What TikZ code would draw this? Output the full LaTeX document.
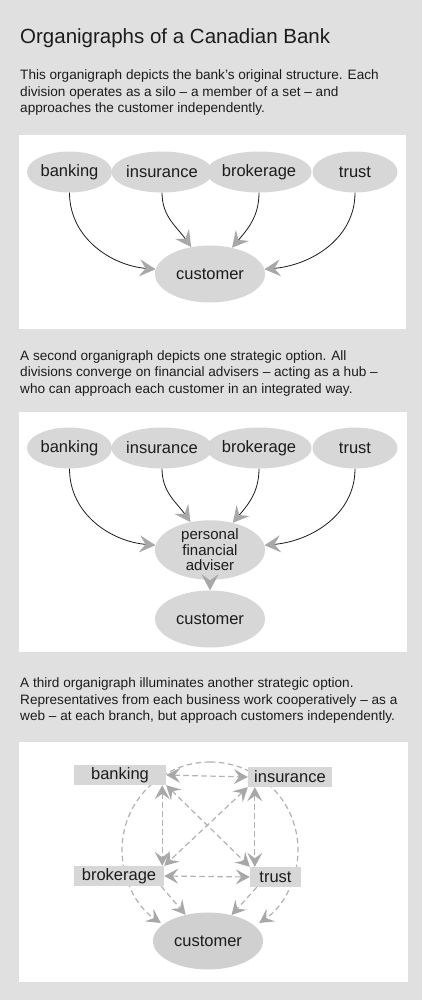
\documentclass[tikz,border=0pt]{standalone}
\usepackage{fontspec}
\setmainfont{Liberation Sans}
\usetikzlibrary{arrows.meta,positioning,shapes.geometric}
\definecolor{pagegray}{RGB}{224,224,224}
\definecolor{nodegray}{RGB}{215,215,215}
\definecolor{custgray}{RGB}{208,208,208}
\definecolor{headgray}{RGB}{168,168,168}
\definecolor{dashgray}{RGB}{178,178,178}
\definecolor{inkblack}{RGB}{28,28,28}

\tikzset{
  feedtip/.tip={Stealth[length=16pt,width=17pt,inset=6pt,color=headgray]},
  webtip/.tip={Stealth[length=14pt,width=15pt,inset=5.5pt,color=headgray]},
  division/.style={ellipse, fill=nodegray, minimum width=85pt, minimum height=41pt, inner sep=0pt, text=inkblack, font=\fontsize{16.5}{17}\selectfont},
  client/.style={ellipse, fill=nodegray, minimum width=110pt, minimum height=57pt, inner sep=0pt, text=inkblack, align=center, font=\fontsize{16.5}{17}\selectfont},
  unit/.style={rectangle, fill=nodegray, minimum height=20pt, inner sep=0pt, text=inkblack, font=\fontsize{16.5}{17}\selectfont},
  feed/.style={-feedtip, line width=0.8pt, draw=inkblack},
  web/.style={dash pattern=on 5.5pt off 3.5pt, line width=1.2pt, draw=dashgray},
  caption/.style={anchor=north west, inner sep=0pt, align=left, text=inkblack, font=\fontsize{13.6}{16.5}\selectfont}
}

\begin{document}
\begin{tikzpicture}[x=1pt,y=1pt]
  % page and panels
  \fill[pagegray] (0,0) rectangle (422,-1000);
  \useasboundingbox (0,0) rectangle (422,-1000);
  \fill[white] (19,-135) rectangle (406,-329);
  \fill[white] (19,-412) rectangle (407,-652);
  \fill[white] (19,-742) rectangle (408,-982);

  % heading and captions
  \node[anchor=base west, inner sep=0pt, text=inkblack, font=\fontsize{20.5}{21}\selectfont] (title) at (20,-43.5) {Organigraphs of a Canadian Bank};
  \node[caption] (intro1) at (20,-69.5) {This organigraph depicts the bank's original structure. Each\\division operates as a silo – a member of a set – and\\approaches the customer independently.};
  \node[caption] (intro2) at (20,-350) {A second organigraph depicts one strategic option. All\\divisions converge on financial advisers – acting as a hub –\\who can approach each customer in an integrated way.};
  \node[caption] (intro3) at (20,-677.5) {A third organigraph illuminates another strategic option.\\Representatives from each business work cooperatively – as a\\web – at each branch, but approach customers independently.};

  % silo
  \node[division] (bank1) at (69.5,-172) {banking};
  \node[division] (ins1) at (162,-172) {insurance};
  \node[division] (brok1) at (259,-172) {brokerage};
  \node[division] (trust1) at (355,-172) {trust};
  \node[client] (cust1) at (210,-274) {customer};
  \draw[feed] (bank1) to[out=-90,in=175] (cust1);
  \draw[feed] (ins1) to[out=-90,in=125] (cust1);
  \draw[feed] (brok1) to[out=-90,in=50] (cust1);
  \draw[feed] (trust1) to[out=-90,in=5] (cust1);

  % hub
  \node[division] (bank2) at (69.5,-448) {banking};
  \node[division] (ins2) at (162,-448) {insurance};
  \node[division] (brok2) at (259,-448) {brokerage};
  \node[division] (trust2) at (355,-448) {trust};
  \node[client, minimum height=56pt, font=\fontsize{15}{15.5}\selectfont] (adviser) at (210,-550) {personal\\financial\\adviser};
  \node[client] (cust2) at (210,-619) {customer};
  \draw[feed] (bank2) to[out=-90,in=175] (adviser);
  \draw[feed] (ins2) to[out=-90,in=125] (adviser);
  \draw[feed] (brok2) to[out=-90,in=50] (adviser);
  \draw[feed] (trust2) to[out=-90,in=5] (adviser);
  \draw[feed] (adviser) -- (cust2);

  % web
  \coordinate (webtop) at (210,-762);
  \draw[web, -webtip] (webtop) arc[start angle=90, end angle=236, radius=88];
  \draw[web, -webtip] (webtop) arc[start angle=90, end angle=-56, radius=88];
  \node[unit, minimum width=92pt] (bank3) at (120,-775) {banking};
  \node[unit, minimum width=84pt] (ins3) at (290,-777) {insurance};
  \node[unit, minimum width=90pt] (brok3) at (119,-876) {brokerage};
  \node[unit, minimum width=51pt] (trust3) at (275.5,-877) {trust};
  \node[client, fill=custgray] (cust3) at (208,-941) {customer};
  \draw[web, webtip-webtip] (bank3.east) -- (ins3.west);
  \draw[web, webtip-webtip] (brok3.east) -- (trust3.west);
  \draw[web, webtip-webtip] ([xshift=-4pt]bank3.south east) -- ([xshift=-4pt]bank3.south east |- brok3.north);
  \draw[web, webtip-webtip] ([xshift=7pt]ins3.south west) -- ([xshift=7pt]ins3.south west |- trust3.north);
  \draw[web, webtip-webtip] (bank3.south east) -- (trust3.north west);
  \draw[web, webtip-webtip] (ins3.south west) -- (brok3.north east);
  \draw[web, -webtip] ([xshift=-3pt]brok3.south east) -- (cust3);
  \draw[web, -webtip] ([xshift=7pt]trust3.south west) -- (cust3);
\end{tikzpicture}
\end{document}
